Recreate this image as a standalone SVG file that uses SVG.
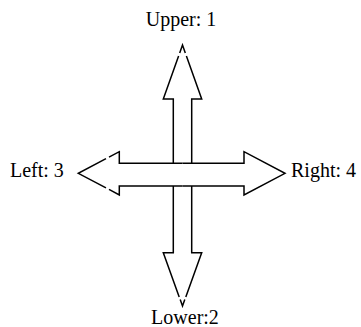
<svg xmlns="http://www.w3.org/2000/svg" width="361" height="327" viewBox="0 0 361 327">
<style>
.arrow{fill:none;stroke:#000;stroke-width:1.5;stroke-linejoin:miter}
.lbl{font-family:"Liberation Serif","Times New Roman",serif;font-size:20px;fill:#000}
</style>
<rect width="361" height="327" fill="#fff"/>
<g id="connectors">
<path id="upper-arrow" class="arrow" d="M173.3,163.3 V99 H163.3 L178.6,56 M179.7,53 L182.5,45 L185.3,53 M186.4,56 L201.7,99 H191.7 V163.3"/>
<path id="lower-arrow" class="arrow" d="M173.3,186 V252.7 H163.3 L179.2,297 M180.2,299.5 L182.5,306 L184.8,299.5 M185.8,297 L201.7,252.7 H191.7 V186"/>
<path id="left-arrow" class="arrow" d="M182.5,163.3 H119.3 V151.7 L109,157.1 M106,158.7 L78.3,173.3 L106,187.8 M109,189.3 L119.3,195 V186 H182.5"/>
<path id="right-arrow" class="arrow" d="M182.5,163.3 H244 V151.7 L285,173.3 L244,195 V186 H182.5"/>
</g>
<g id="node-upper"><text class="lbl" x="181" y="26" text-anchor="middle">Upper: 1</text></g>
<g id="node-left"><text class="lbl" x="10" y="177">Left: 3</text></g>
<g id="node-right"><text class="lbl" x="291" y="177">Right: 4</text></g>
<g id="node-lower"><text class="lbl" x="185" y="324" text-anchor="middle">Lower:2</text></g>
</svg>
